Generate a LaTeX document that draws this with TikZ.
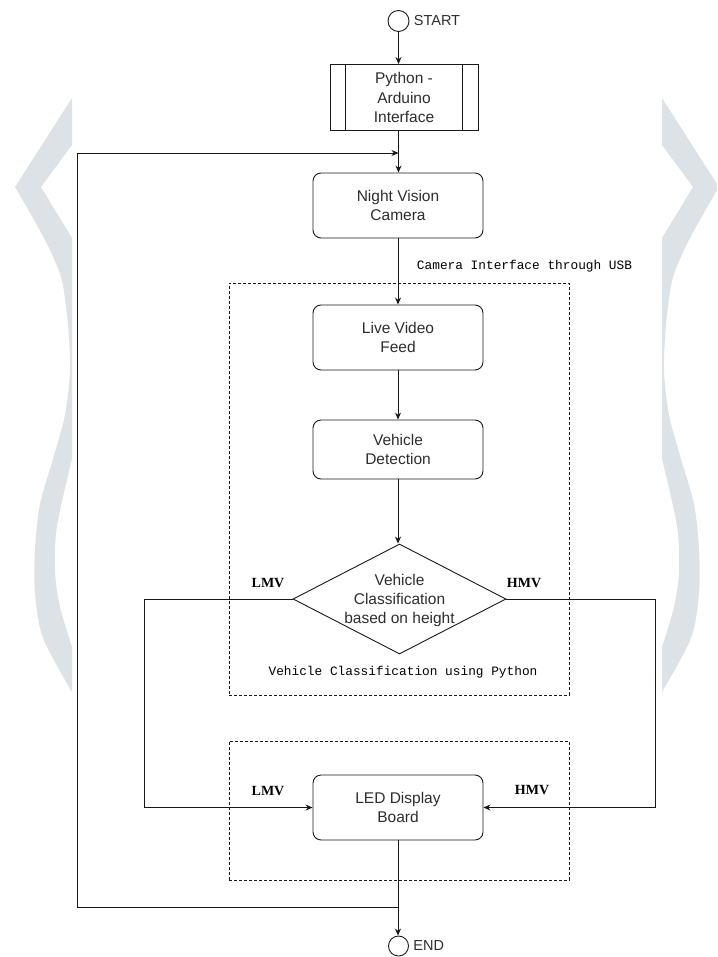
\documentclass[tikz,border=0pt]{standalone}
\usepackage{fontspec}
\setmainfont{Liberation Sans}
\newfontfamily\monofont{Liberation Mono}
\newfontfamily\seriffont{Liberation Serif}
\usetikzlibrary{arrows.meta,shapes.geometric}
\definecolor{wm}{RGB}{220,226,230}
\definecolor{txt}{RGB}{45,45,45}
\definecolor{ln}{RGB}{25,25,25}
\newcommand\wmshape{%
  \fill[wm] (72,98) -- (15,187)
    -- plot[smooth] coordinates {(15,187) (33,218) (50,250) (62,281) (68,325) (70,370) (65,415) (53,459) (40,504) (35,549) (35,593) (43,638) (72,692)}
    -- (72,647)
    -- plot[smooth] coordinates {(72,647) (60,607) (55,571) (57,526) (72,459)}
    -- (72,238) -- (41,187) -- (72,145) -- cycle;}
\begin{document}
\begin{tikzpicture}[x=1pt,y=-1pt,
  line width=0.9pt, draw=ln,
  box/.style={draw=ln, line width=0.9pt, rounded corners=8pt, minimum width=170pt, minimum height=65pt, align=center, inner sep=0pt, text=txt, font=\fontsize{15.5}{19.5}\selectfont},
  term/.style={draw=ln, line width=0.9pt, circle, minimum size=21pt, inner sep=0pt},
  termtext/.style={anchor=west, text=txt, inner sep=0pt, font=\fontsize{14.5}{17}\selectfont},
  mono/.style={text=black, inner sep=0pt, font=\monofont\fontsize{12.8}{15}\selectfont},
  lbl/.style={text=black, inner sep=0pt, font=\seriffont\bfseries\fontsize{14}{16}\selectfont},
  grp/.style={draw=ln, line width=0.8pt, dash pattern=on 3pt off 2pt, inner sep=0pt},
  arr/.style={draw=ln, line width=0.9pt, -{Stealth[length=7pt,width=6pt]}}]
\useasboundingbox (0,0) rectangle (717,957);
% watermark shapes
\begin{scope}
  \clip (0,0) rectangle (717,957);
  \wmshape
  \begin{scope}[shift={(734,0)}, xscale=-1]
    \wmshape
  \end{scope}
\end{scope}
% group frames
\node[grp, minimum width=340pt, minimum height=412pt] (g1) at (399,489) {};
\node[grp, minimum width=340pt, minimum height=139pt] (g2) at (399,810.5) {};
% nodes
\node[term] (start) at (398.5,21) {};
\node[termtext] (starttext) at ([xshift=4pt]start.east) {START};
\node[draw=ln, line width=0.9pt, minimum width=148pt, minimum height=66pt, inner sep=0pt, align=center, text=txt, font=\fontsize{15.5}{19.5}\selectfont] (py) at (404,97.5) {Python -\\Arduino\\Interface};
\draw[line width=0.9pt] ([xshift=16pt]py.north west) -- ([xshift=16pt]py.south west);
\draw[line width=0.9pt] ([xshift=-16pt]py.north east) -- ([xshift=-16pt]py.south east);
\node[box] (nv) at (398,205.5) {Night Vision\\Camera};
\node[box] (feed) at (398,337.5) {Live Video\\Feed};
\node[box, minimum height=59pt] (det) at (398,449.5) {Vehicle\\Detection};
\node[draw=ln, line width=0.9pt, diamond, minimum width=213pt, minimum height=110pt, inner sep=0pt] (dia) at (399.5,599) {};
\node[align=center, text=txt, inner sep=0pt, font=\fontsize{15.5}{19}\selectfont] (diatext) at (399.5,600) {Vehicle\\Classification\\based on height};
\node[box] (led) at (398,807.5) {LED Display\\Board};
\node[term, minimum size=20pt] (end) at (398.5,946) {};
\node[termtext] (endtext) at ([xshift=4pt]end.east) {END};
% texts
\node[mono] (usb) at (524.5,266) {Camera Interface through USB};
\node[mono] (cls) at (403,672) {Vehicle Classification using Python};
\node[lbl] (lmv1) at (268,583) {LMV};
\node[lbl] (hmv1) at (524,583) {HMV};
\node[lbl] (lmv2) at (268,791) {LMV};
\node[lbl] (hmv2) at (532,790) {HMV};
% helper coordinates
\coordinate (lx) at (144,0);
\coordinate (rx) at (655,0);
\coordinate (fbl) at (77,907);
\coordinate (fbt) at (77,153);
% connectors
\draw[arr] (start.south) -- (start.south |- py.north);
\draw[arr] (start.south |- py.south) -- (start.south |- nv.north);
\draw[arr] (nv.south) -- (feed.north);
\draw[arr] (feed.south) -- (det.north);
\draw[arr] (det.south) -- (det.south |- dia.north);
\draw[arr] (dia.west) -| (lx |- led.west) -- (led.west);
\draw[arr] (dia.east) -| (rx |- led.east) -- (led.east);
\draw[arr] (led.south) -- (led.south |- end.north);
\draw[arr] (led.south |- fbl) -- (fbl) -- (fbt) -- (start.south |- fbt);
\end{tikzpicture}
\end{document}
